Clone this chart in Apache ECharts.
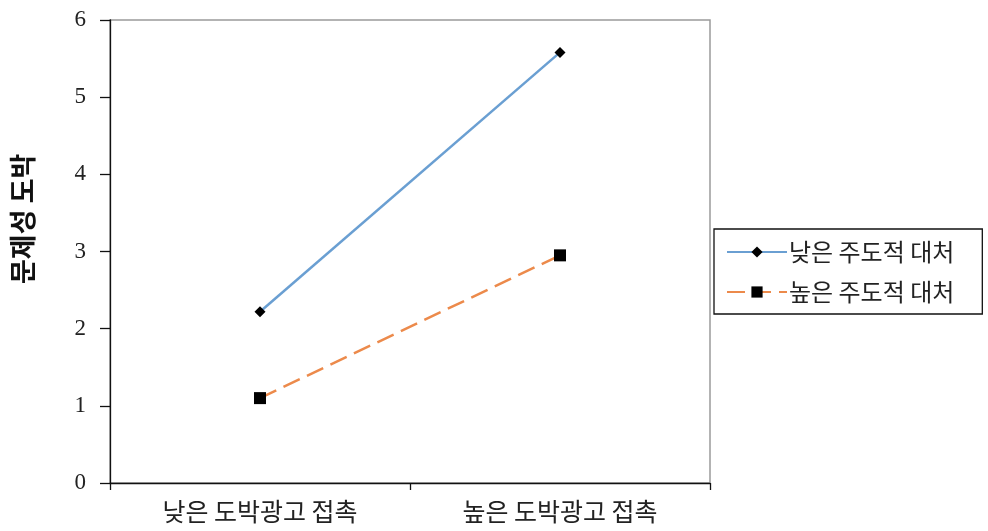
<!DOCTYPE html>
<html><head><meta charset="utf-8">
<script src="https://cdn.jsdelivr.net/npm/echarts@6/dist/echarts.min.js"></script>
<style>html,body{margin:0;padding:0;background:#fff}#c{width:988px;height:531px}</style>
</head><body><div id="c"></div>
<script>
const categories = ['낮은 도박광고 접촉', '높은 도박광고 접촉'];
const seriesNames = ['낮은 주도적 대처', '높은 주도적 대처'];
const lowCoping = [2.22, 5.58];
const highCoping = [1.10, 2.95];
const yTicks = [0, 1, 2, 3, 4, 5, 6];
const yTitle = '문제성 도박';

const chart = echarts.init(document.getElementById('c'));
chart.setOption({
  animation: false,
  backgroundColor: '#fff',
  grid: { left: 110, right: 278, top: 20, bottom: 48, show: true, borderColor: '#9a9a9a', borderWidth: 1.5, backgroundColor: 'transparent' },
  xAxis: {
    type: 'category', data: categories, boundaryGap: true,
    axisLine: { lineStyle: { color: '#111', width: 1.3 } },
    axisTick: { show: true, length: 7, lineStyle: { color: '#111', width: 1.3 } },
    axisLabel: { color: '#222', fontSize: 25, fontFamily: 'Noto Sans CJK KR', margin: 16 }
  },
  yAxis: {
    type: 'value', min: yTicks[0], max: yTicks[yTicks.length - 1], interval: 1,
    axisLine: { show: true, lineStyle: { color: '#111', width: 1.3 } },
    axisTick: { show: true, length: 10, lineStyle: { color: '#111', width: 1.3 } },
    splitLine: { show: false },
    axisLabel: { color: '#222', fontSize: 23, fontFamily: 'Liberation Serif', margin: 24 }
  },
  legend: {
    orient: 'vertical', left: 714, top: 229, itemGap: 12,
    padding: [9, 28, 8, 12],
    borderColor: '#111', borderWidth: 1.3,
    itemWidth: 60, itemHeight: 14,
    textStyle: { fontSize: 24, lineHeight: 28, color: '#222', fontFamily: 'Noto Sans CJK KR', padding: [0, 0, 0, -3] },
    data: [seriesNames[0], seriesNames[1]]
  },
  graphic: [{
    type: 'text', x: 9, y: 284, rotation: Math.PI / 2,
    style: { text: yTitle, fontSize: 27, fontWeight: 'bold', fill: '#111', fontFamily: 'Noto Sans CJK KR', textAlign: 'left', textVerticalAlign: 'top' }
  }],
  series: [
    {
      name: seriesNames[0], type: 'line', data: lowCoping,
      symbol: 'diamond', symbolSize: 11,
      itemStyle: { color: '#000' },
      lineStyle: { color: '#6a9fd2', width: 2.5, type: 'solid' }
    },
    {
      name: seriesNames[1], type: 'line', data: highCoping,
      symbol: 'rect', symbolSize: 12,
      itemStyle: { color: '#000' },
      lineStyle: { color: '#ec8a4b', width: 2.5, type: [18, 8] }
    }
  ]
});
</script></body></html>
